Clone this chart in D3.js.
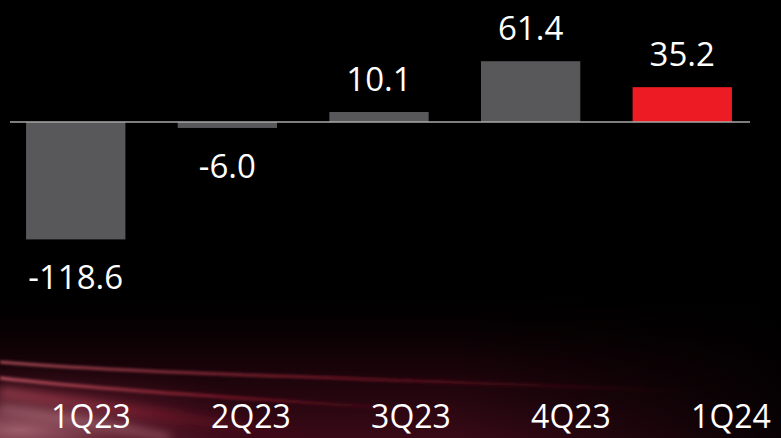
<!DOCTYPE html>
<html>
<head>
<meta charset="utf-8">
<script src="https://cdn.jsdelivr.net/npm/d3@7"></script>
<style>
html,body{margin:0;padding:0;background:#000;overflow:hidden;}
svg{display:block;}
text{font-family:"Open Sans","Noto Sans",sans-serif;fill:#fff;}
</style>
</head>
<body>
<svg id="chart" width="781" height="438"></svg>
<script>
const categories = ["1Q23", "2Q23", "3Q23", "4Q23", "1Q24"];
const values = [-118.6, -6.0, 10.1, 61.4, 35.2];
const valueLabels = ["-118.6", "-6.0", "10.1", "61.4", "35.2"];
const highlight = [false, false, false, false, true];

const W = 781, H = 438;
const svg = d3.select("#chart");
const defs = svg.append("defs");

// background
svg.append("rect").attr("width", W).attr("height", H).attr("fill", "#000");

const lg = defs.append("linearGradient").attr("id", "bgFade").attr("x1", 0).attr("y1", 0).attr("x2", 0).attr("y2", 1);
lg.append("stop").attr("offset", "0").attr("stop-color", "#000").attr("stop-opacity", 0);
lg.append("stop").attr("offset", "0.5").attr("stop-color", "#1a0309").attr("stop-opacity", 0.8);
lg.append("stop").attr("offset", "1").attr("stop-color", "#3a0a18").attr("stop-opacity", 1);
svg.append("rect").attr("x", 0).attr("y", 280).attr("width", W).attr("height", H - 280).attr("fill", "url(#bgFade)");

const rg = defs.append("radialGradient").attr("id", "glow").attr("cx", 0.5).attr("cy", 0.5).attr("r", 0.5);
rg.append("stop").attr("offset", "0").attr("stop-color", "#c07a88").attr("stop-opacity", 0.75);
rg.append("stop").attr("offset", "0.5").attr("stop-color", "#7a2a3e").attr("stop-opacity", 0.45);
rg.append("stop").attr("offset", "1").attr("stop-color", "#3a0a18").attr("stop-opacity", 0);
svg.append("ellipse").attr("cx", 20).attr("cy", 430).attr("rx", 260).attr("ry", 70).attr("fill", "url(#glow)");

const rightFade = defs.append("linearGradient").attr("id", "rightFade").attr("x1", 0).attr("y1", 0).attr("x2", 1).attr("y2", 0);
rightFade.append("stop").attr("offset", "0").attr("stop-color", "#000").attr("stop-opacity", 0);
rightFade.append("stop").attr("offset", "1").attr("stop-color", "#000").attr("stop-opacity", 0.85);
svg.append("rect").attr("x", 450).attr("y", 280).attr("width", W - 450).attr("height", H - 280).attr("fill", "url(#rightFade)");

const blur = defs.append("filter").attr("id", "blur").attr("x", "-10%").attr("y", "-50%").attr("width", "120%").attr("height", "200%");
blur.append("feGaussianBlur").attr("stdDeviation", 1.6);
const blur2 = defs.append("filter").attr("id", "blur2").attr("x", "-10%").attr("y", "-50%").attr("width", "120%").attr("height", "200%");
blur2.append("feGaussianBlur").attr("stdDeviation", 5);

const sg = defs.append("linearGradient").attr("id", "streak").attr("x1", 0).attr("y1", 0).attr("x2", 1).attr("y2", 0);
sg.append("stop").attr("offset", "0").attr("stop-color", "#d0606e").attr("stop-opacity", 0.9);
sg.append("stop").attr("offset", "0.5").attr("stop-color", "#9a1c30").attr("stop-opacity", 0.7);
sg.append("stop").attr("offset", "1").attr("stop-color", "#6a0a1a").attr("stop-opacity", 0);

svg.append("path").attr("d", "M0,362 C150,375 400,378 700,392").attr("fill", "none")
  .attr("stroke", "url(#streak)").attr("stroke-width", 2.5).attr("filter", "url(#blur)");
svg.append("path").attr("d", "M0,378 C120,392 280,400 450,412").attr("fill", "none")
  .attr("stroke", "url(#streak)").attr("stroke-width", 3).attr("filter", "url(#blur)");
svg.append("path").attr("d", "M0,392 C100,405 200,420 320,438").attr("fill", "none")
  .attr("stroke", "url(#streak)").attr("stroke-width", 10).attr("opacity", 0.6).attr("filter", "url(#blur2)");
svg.append("path").attr("d", "M0,408 C60,416 120,428 170,438").attr("fill", "none")
  .attr("stroke", "#e0a0aa").attr("stroke-width", 8).attr("opacity", 0.35).attr("filter", "url(#blur2)");

// scales
const x = d3.scaleBand().domain(categories).range([0, 758]).paddingInner(0.345).paddingOuter(0.172);
const y = d3.scaleLinear().domain([0, 100]).range([122, 23]);
const xLabel = d3.scalePoint().domain(categories).range([91, 731]);

// bars
svg.selectAll("rect.bar").data(values).join("rect")
  .attr("class", "bar")
  .attr("x", (d, i) => x(categories[i]))
  .attr("width", x.bandwidth())
  .attr("y", d => d >= 0 ? y(d) : y(0))
  .attr("height", d => Math.abs(y(d) - y(0)))
  .attr("fill", (d, i) => highlight[i] ? "#ed1c24" : "#58585b");

// baseline
svg.append("line").attr("x1", 10).attr("x2", 750).attr("y1", y(0)).attr("y2", y(0))
  .attr("stroke", "#a8a8a8").attr("stroke-width", 1.5);

// value labels
svg.selectAll("text.val").data(values).join("text")
  .attr("class", "val")
  .attr("x", (d, i) => x(categories[i]) + x.bandwidth() / 2)
  .attr("y", d => d >= 0 ? y(d) - 21 : y(d) + 50)
  .attr("text-anchor", "middle")
  .attr("font-size", 33)
  .text((d, i) => valueLabels[i]);

// category labels
svg.selectAll("text.cat").data(categories).join("text")
  .attr("class", "cat")
  .attr("x", d => xLabel(d))
  .attr("y", 428)
  .attr("text-anchor", "middle")
  .attr("font-size", 32)
  .text(d => d);
</script>
</body>
</html>
